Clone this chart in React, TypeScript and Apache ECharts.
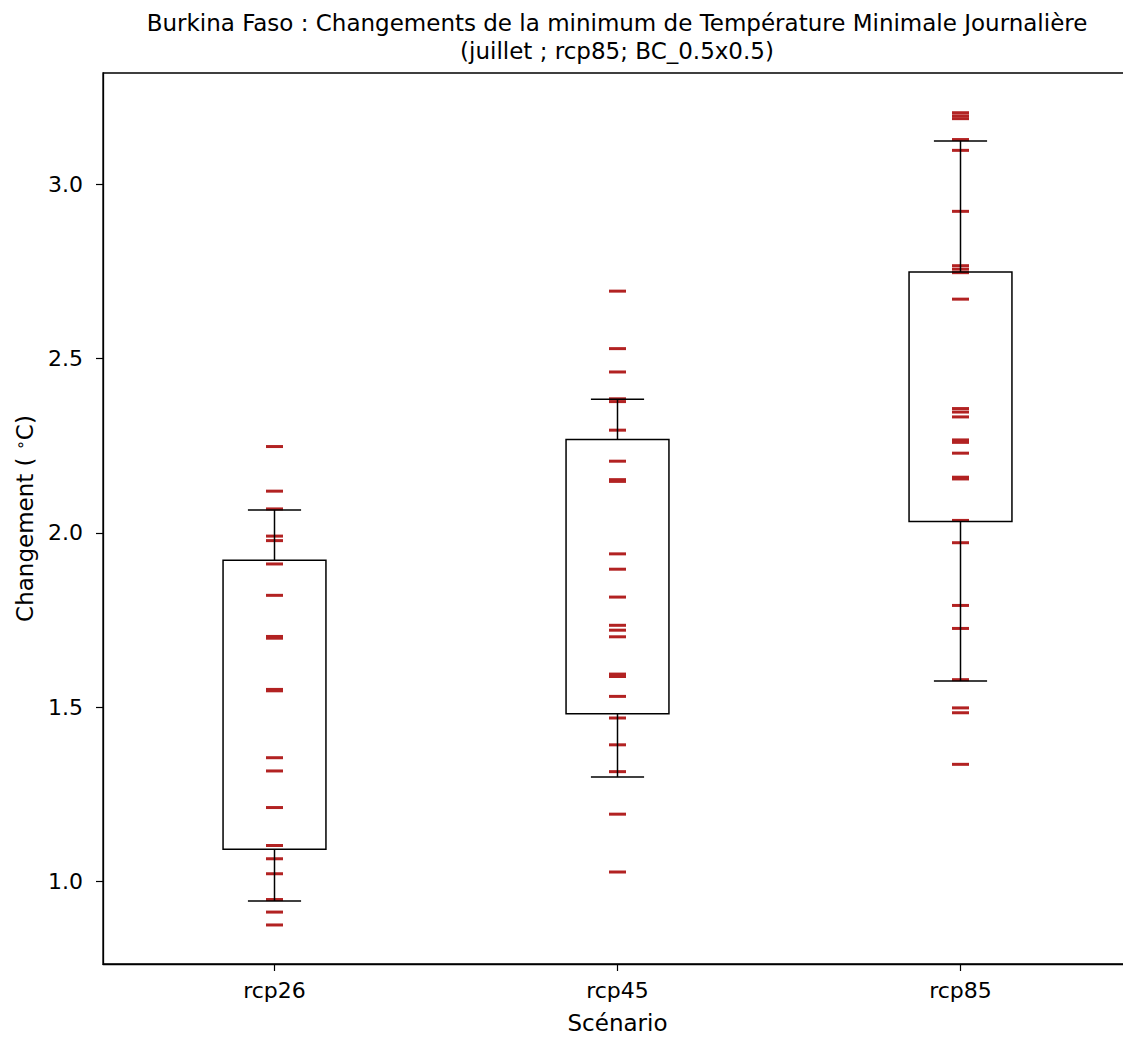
import React, { useEffect, useRef } from "react";
import * as echarts from "echarts";

const scenarios = ["rcp26", "rcp45", "rcp85"];

const rcp26Values = [2.248, 2.12, 2.069, 1.991, 1.978, 1.911, 1.821, 1.703, 1.698, 1.551, 1.547, 1.355, 1.317, 1.212, 1.103, 1.065, 1.022, 0.948, 0.912, 0.875];
const rcp45Values = [2.694, 2.529, 2.462, 2.385, 2.377, 2.295, 2.206, 2.153, 2.148, 1.94, 1.896, 1.816, 1.735, 1.721, 1.702, 1.595, 1.588, 1.531, 1.469, 1.392, 1.315, 1.193, 1.027];
const rcp85Values = [3.206, 3.197, 3.189, 3.129, 3.098, 2.923, 2.767, 2.757, 2.747, 2.671, 2.357, 2.347, 2.333, 2.267, 2.26, 2.229, 2.16, 2.155, 2.036, 1.972, 1.792, 1.726, 1.579, 1.498, 1.484, 1.336];

const whiskerLow = [0.944, 1.3, 1.575];
const quartile1 = [1.092, 1.481, 2.033];
const quartile3 = [1.922, 2.268, 2.749];
const whiskerHigh = [2.066, 2.384, 3.125];

const yTicks = [1.0, 1.5, 2.0, 2.5, 3.0];

const titleLines = [
  "Burkina Faso : Changements de la minimum de Température Minimale Journalière",
  "(juillet ; rcp85; BC_0.5x0.5)",
];

const FONT = "DejaVu Sans";

export default function App() {
  const ref = useRef<HTMLDivElement>(null);
  useEffect(() => {
    if (!ref.current) return;
    const chart = echarts.init(ref.current, undefined, { renderer: "svg" });
    const allValues = [rcp26Values, rcp45Values, rcp85Values];
    const scatterData: number[][] = [];
    allValues.forEach((arr, i) => arr.forEach((v) => scatterData.push([i, v])));
    const boxData = scenarios.map((_, i) => [i, whiskerLow[i], quartile1[i], quartile3[i], whiskerHigh[i]]);

    const option: any = {
      animation: false,
      backgroundColor: "#fff",
      textStyle: { fontFamily: FONT },
      grid: {
        left: 103,
        top: 73,
        right: 0,
        bottom: 71,
        show: true,
        borderColor: "#000",
        borderWidth: 1.3,
        backgroundColor: "transparent",
      },
      graphic: [
        {
          type: "text",
          x: 617,
          y: 9,
          style: {
            text: titleLines.join("\n"),
            textAlign: "center",
            textVerticalAlign: "top",
            fontFamily: FONT,
            fontSize: 23,
            lineHeight: 28,
            fill: "#000",
          },
        },
      ],
      xAxis: {
        type: "category",
        data: scenarios,
        boundaryGap: true,
        axisLine: { show: true, lineStyle: { color: "#000", width: 1.3 } },
        axisTick: { show: true, alignWithLabel: true, length: 7, lineStyle: { color: "#000", width: 1.2 } },
        axisLabel: { color: "#000", fontSize: 22, fontFamily: FONT, margin: 15 },
        splitLine: { show: false },
        name: "Scénario",
        nameLocation: "middle",
        nameGap: 47,
        nameTextStyle: { color: "#000", fontSize: 23, fontFamily: FONT },
      },
      yAxis: {
        type: "value",
        min: 0.763,
        max: 3.32,
        axisLine: { show: true, lineStyle: { color: "#000", width: 1.3 } },
        axisTick: { show: true, length: 7, customValues: yTicks, lineStyle: { color: "#000", width: 1.2 } },
        axisLabel: {
          color: "#000",
          fontSize: 22,
          fontFamily: FONT,
          margin: 20,
          customValues: yTicks,
          formatter: (v: number) => v.toFixed(1),
        },
        splitLine: { show: false },
        name: "Changement ( {sup|∘}C)",
        nameLocation: "middle",
        nameRotate: 90,
        nameGap: 66,
        nameTextStyle: {
          color: "#000",
          fontSize: 23,
          fontFamily: FONT,
          rich: {
            sup: { fontSize: 16, fontFamily: FONT, color: "#000", verticalAlign: "top", padding: [0, 0, 9, 0] },
          },
        },
      },
      series: [
        {
          type: "scatter",
          data: scatterData,
          symbol: "rect",
          symbolSize: [17, 3],
          itemStyle: { color: "#b22222", opacity: 1 },
          z: 2,
        },
        {
          type: "custom",
          data: boxData,
          z: 3,
          renderItem: (params: any, api: any) => {
            const x = api.value(0);
            const pLow = api.coord([x, api.value(1)]);
            const pQ1 = api.coord([x, api.value(2)]);
            const pQ3 = api.coord([x, api.value(3)]);
            const pHigh = api.coord([x, api.value(4)]);
            const band = api.size([1, 0])[0];
            const bw = band * 0.3;
            const cw = band * 0.155;
            const cx = pQ1[0];
            const st = { stroke: "#000", lineWidth: 1.5, fill: "none" };
            return {
              type: "group",
              children: [
                { type: "rect", shape: { x: cx - bw / 2, y: pQ3[1], width: bw, height: pQ1[1] - pQ3[1] }, style: st },
                { type: "line", shape: { x1: cx, y1: pQ3[1], x2: cx, y2: pHigh[1] }, style: st },
                { type: "line", shape: { x1: cx, y1: pQ1[1], x2: cx, y2: pLow[1] }, style: st },
                { type: "line", shape: { x1: cx - cw / 2, y1: pHigh[1], x2: cx + cw / 2, y2: pHigh[1] }, style: st },
                { type: "line", shape: { x1: cx - cw / 2, y1: pLow[1], x2: cx + cw / 2, y2: pLow[1] }, style: st },
              ],
            };
          },
        },
      ],
    };
    chart.setOption(option);
    return () => chart.dispose();
  }, []);
  return (
    <div style={{ position: "absolute", left: 0, top: 0, width: 1123, height: 1039, overflow: "hidden" }}>
      <div ref={ref} style={{ position: "absolute", left: 0, top: 0, width: 1132, height: 1039 }} />
    </div>
  );
}
